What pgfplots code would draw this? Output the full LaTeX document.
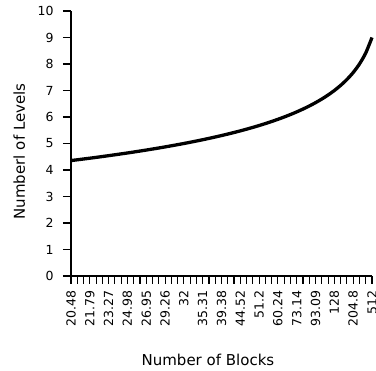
\documentclass[border=0pt]{standalone}
\usepackage{pgfplots}
\pgfplotsset{compat=1.18}
\usepackage{fontspec}
\setmainfont{DejaVu Sans}
\begin{document}
\begin{tikzpicture}[x=1pt,y=1pt]
\begin{axis}[
  at={(71pt,95pt)}, anchor=south west,
  scale only axis, width=301pt, height=265pt,
  xmin=0, xmax=48, ymin=0, ymax=10,
  axis lines*=left,
  axis line style={line width=1.7pt},
  /pgf/number format/assume math mode=true,
  ticklabel style={font=\fontsize{12.5}{13}\selectfont, text=black},
  xtick={0,3,...,48},
  xticklabels={20.48,21.79,23.27,24.98,26.95,29.26,32,35.31,39.38,44.52,51.2,60.24,73.14,93.09,128,204.8,512},
  minor xtick={0,1,...,48},
  x tick label style={rotate=90, anchor=east, xshift=-3pt},
  y tick label style={xshift=-6pt},
  ytick={0,1,...,10},
  tick align=outside,
  major tick length=8pt,
  minor tick length=8pt,
  y tick style={line width=1.3pt, black},
  x tick style={line width=1.1pt, black},
  minor x tick style={line width=1.1pt, black},
  xlabel={Number of Blocks},
  ylabel={Numberl of Levels},
  xlabel style={at={(axis description cs:0.455,-0.317)}, anchor=center},
  ylabel style={at={(axis description cs:-0.172,0.47)}, anchor=center},
  label style={font=\fontsize{15}{16}\selectfont, text=black},
  clip=false,
]
\addplot[line width=3.3pt, black, smooth] coordinates {
(0,4.356) (1,4.385) (2,4.415) (3,4.445) (4,4.476) (5,4.508) (6,4.541) (7,4.574)
(8,4.608) (9,4.642) (10,4.678) (11,4.715) (12,4.752) (13,4.791) (14,4.830)
(15,4.871) (16,4.913) (17,4.956) (18,5.000) (19,5.046) (20,5.093) (21,5.142)
(22,5.193) (23,5.245) (24,5.300) (25,5.356) (26,5.415) (27,5.476) (28,5.541)
(29,5.608) (30,5.678) (31,5.752) (32,5.830) (33,5.913) (34,6.000) (35,6.093)
(36,6.193) (37,6.300) (38,6.415) (39,6.541) (40,6.678) (41,6.830) (42,7.000)
(43,7.193) (44,7.415) (45,7.678) (46,8.000) (47,8.415) (48,9.000)
};
\end{axis}
\pgfresetboundingbox
\path (0,0) rectangle (376,371);
\end{tikzpicture}
\end{document}
